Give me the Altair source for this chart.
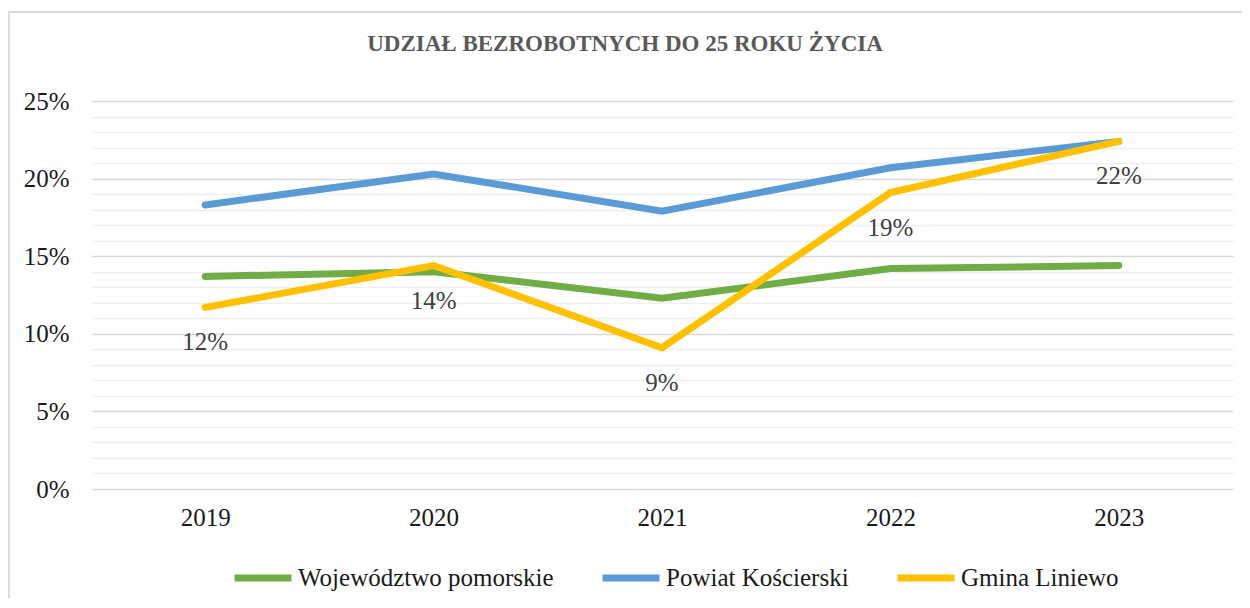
import altair as alt
import pandas as pd

years = ["2019", "2020", "2021", "2022", "2023"]
series_names = ["Województwo pomorskie", "Powiat Kościerski", "Gmina Liniewo"]
series_colors = ["#70AD47", "#5B9BD5", "#FFC000"]
woj_pomorskie = [13.7, 14.0, 12.3, 14.2, 14.4]
pow_koscierski = [18.3, 20.3, 17.9, 20.7, 22.4]
gm_liniewo = [11.7, 14.4, 9.1, 19.1, 22.4]
liniewo_labels = ["12%", "14%", "9%", "19%", "22%"]

rows = []
for name, vals in zip(series_names, [woj_pomorskie, pow_koscierski, gm_liniewo]):
    for y, v in zip(years, vals):
        rows.append({"year": y, "value": v, "series": name})
df = pd.DataFrame(rows)
lab_df = pd.DataFrame({"year": years, "value": gm_liniewo, "label": liniewo_labels})

FONT = "Liberation Serif"

x_enc = alt.X("year:O", scale=alt.Scale(type="point", padding=0.5),
              axis=alt.Axis(title=None, labelAngle=0, ticks=False, domain=False, grid=False,
                            labelFontSize=25, labelColor="#1a1a1a", labelPadding=16, labelFont=FONT))
y_enc = alt.Y("value:Q", scale=alt.Scale(domain=[0, 25], nice=False),
              axis=alt.Axis(title=None, values=list(range(26)), ticks=False, domain=False,
                            labelExpr="datum.value % 5 === 0 ? datum.value + '%' : ''",
                            labelOverlap=False, labelFontSize=25, labelColor="#1a1a1a",
                            labelPadding=22, labelFont=FONT,
                            gridColor={"condition": {"test": "datum.value % 5 === 0", "value": "#d9d9d9"},
                                       "value": "#efefef"},
                            gridWidth=1.6))
color_enc = alt.Color("series:N",
                      scale=alt.Scale(domain=series_names, range=series_colors),
                      legend=alt.Legend(title=None, orient="none", direction="horizontal",
                                        legendX=140, legendY=445, symbolType="stroke",
                                        symbolSize=3249, symbolStrokeWidth=7,
                                        labelFontSize=25, labelFont=FONT, labelColor="#1a1a1a",
                                        labelLimit=0, labelOffset=3, columnPadding=34))

base = alt.Chart(df)
layers = []
for name in series_names:
    layers.append(
        base.transform_filter(alt.datum.series == name)
        .mark_line(strokeWidth=7, strokeCap="round", strokeJoin="miter")
        .encode(x=x_enc, y=y_enc, color=color_enc)
    )

labels = alt.Chart(lab_df).mark_text(dy=35, fontSize=25, font=FONT, color="#404040",
                                     baseline="middle").encode(
    x=x_enc, y=y_enc, text="label:N")

border_top = alt.Chart(lab_df).mark_rule(color="#d9d9d9", strokeWidth=1.5).encode(
    x=alt.value(-82.5), x2=alt.value(1160), y=alt.value(-89))
border_left = alt.Chart(lab_df).mark_rule(color="#d9d9d9", strokeWidth=1.5).encode(
    x=alt.value(-82.5), y=alt.value(-89), y2=alt.value(520))

chart = alt.layer(*layers, labels, border_top, border_left).properties(
    width=1142, height=388,
    autosize=alt.AutoSizeParams(type="none"),
    padding={"left": 83, "top": 93, "right": 9, "bottom": 109},
    title=alt.TitleParams("UDZIAŁ BEZROBOTNYCH DO 25 ROKU ŻYCIA", font=FONT, fontSize=23,
                          fontWeight="bold", color="#595959", anchor="middle",
                          offset=0, dy=45, dx=-37),
).configure(font=FONT).configure_view(strokeWidth=0, stroke="transparent")

chart.save("out.html", embed_options={"renderer": "svg", "actions": False})
